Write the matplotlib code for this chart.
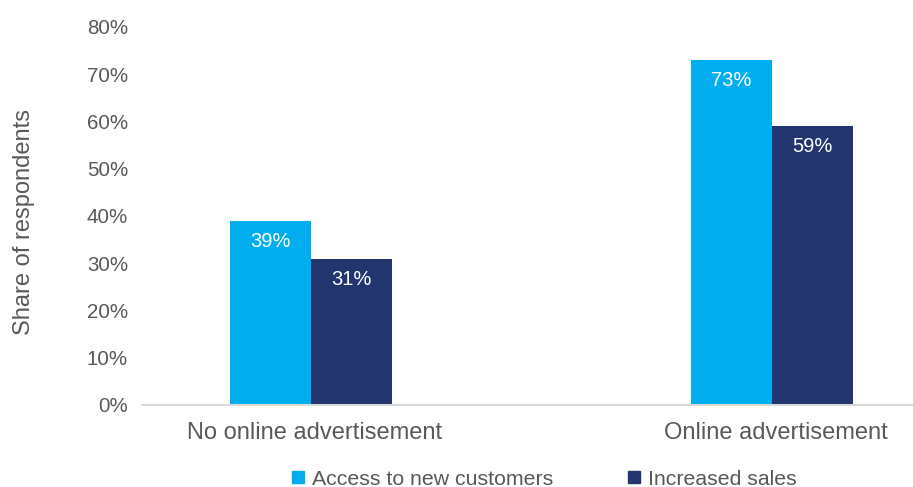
import matplotlib.pyplot as plt
from matplotlib.lines import Line2D

plt.rcParams["font.family"] = ["Liberation Sans", "DejaVu Sans"]

categories = ["No online advertisement", "Online advertisement"]
series_names = ["Access to new customers", "Increased sales"]
access_new_customers = [39, 73]
increased_sales = [31, 59]
y_ticks = [0, 10, 20, 30, 40, 50, 60, 70, 80]

light_blue = "#00AEEF"
navy = "#22356E"
text_gray = "#595959"

fig = plt.figure(figsize=(9.13, 4.87), dpi=100)
ax = fig.add_axes([0.1555, 0.1684, 0.8445, 0.7762])

x = range(len(categories))
width = 0.1757
bars1 = ax.bar([i - width / 2 for i in x], access_new_customers, width, color=light_blue)
bars2 = ax.bar([i + width / 2 for i in x], increased_sales, width, color=navy)

for bars, vals in [(bars1, access_new_customers), (bars2, increased_sales)]:
    for b, v in zip(bars, vals):
        ax.annotate(f"{v}%", (b.get_x() + b.get_width() / 2, v),
                    xytext=(0, -8), textcoords="offset points",
                    ha="center", va="top", color="white", fontsize=14.5)

ax.set_xlim(-0.3666, 1.306)
ax.set_ylim(0, 80)
ax.set_yticks(y_ticks)
ax.set_yticklabels([f"{t}%" for t in y_ticks])
ax.set_xticks([i + 0.008 for i in x])
ax.set_xticklabels(categories, fontsize=17)
ax.tick_params(axis="y", length=0, pad=10, labelsize=14.8, labelcolor=text_gray)
ax.tick_params(axis="x", length=0, pad=12, labelcolor=text_gray)

for s in ["top", "right", "left"]:
    ax.spines[s].set_visible(False)
ax.spines["bottom"].set_color("#D9D9D9")
ax.spines["bottom"].set_linewidth(1.5)

fig.text(0.026, 0.545, "Share of respondents", rotation=90, ha="center", va="center",
         fontsize=17, color=text_gray)

handles = [Line2D([], [], marker="s", linestyle="none", markersize=8, color=c)
           for c in [light_blue, navy]]
fig.legend(handles, series_names, loc="center", bbox_to_anchor=(0.595, 0.016),
           ncol=2, frameon=False, fontsize=15.3, labelcolor=text_gray,
           handlelength=0.8, handletextpad=0.25, columnspacing=3.4)

fig.savefig("out.png", dpi=100)
